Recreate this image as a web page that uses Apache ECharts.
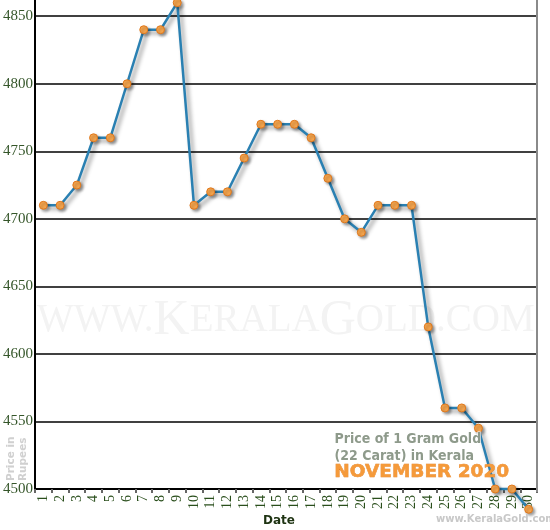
<!DOCTYPE html>
<html>
<head>
<meta charset="utf-8">
<script src="https://cdn.jsdelivr.net/npm/echarts@6/dist/echarts.min.js"></script>
<style>html,body{margin:0;padding:0;background:#fff}#c{width:550px;height:530px}</style>
</head>
<body>
<div id="c"></div>
<script>
var days = ['1','2','3','4','5','6','7','8','9','10','11','12','13','14','15','16','17','18','19','20','21','22','23','24','25','26','27','28','29','30'];
var prices = [4710,4710,4725,4760,4760,4800,4840,4840,4860,4710,4720,4720,4745,4770,4770,4770,4760,4730,4700,4690,4710,4710,4710,4620,4560,4560,4545,4500,4500,4485];
var yMin = 4500, yMax = 4862, yStep = 50;

var chart = echarts.init(document.getElementById('c'), null, {renderer:'canvas'});
chart.setOption({
  animation:false,
  grid:{left:34,right:13,top:0,bottom:41,containLabel:false},
  xAxis:{
    type:'category', data:days, boundaryGap:true,
    axisLine:{lineStyle:{color:'#000',width:2}},
    axisTick:{show:true,length:4,lineStyle:{color:'#666',width:2}},
    axisLabel:{rotate:90,color:'#2a4f1c',fontFamily:'Liberation Serif',fontSize:14,margin:6,interval:0}
  },
  yAxis:{
    type:'value', min:yMin, max:yMax, interval:yStep,
    axisLine:{show:true,lineStyle:{color:'#000',width:2}},
    axisTick:{show:false},
    axisLabel:{showMaxLabel:false,color:'#35562a',fontFamily:'Liberation Serif',fontSize:15,margin:2,
      formatter:function(v){return String(v);}},
    splitLine:{show:true,showMaxLine:false,showMinLine:false,lineStyle:{color:'#000',width:1.5}}
  },
  graphic:[
    {type:'text',left:37,top:296,z:0,silent:true,style:{
      text:'{s|WWW.}{b|K}{s|ERALA}{b|G}{s|OLD.COM}',
      rich:{s:{fontFamily:'Liberation Serif',fontSize:39,fill:'#f3f3f3'},b:{fontFamily:'Liberation Serif',fontSize:50,fill:'#f3f3f3'}}
    }},
    {type:'line',z:5,shape:{x1:537,y1:0,x2:537,y2:492},style:{stroke:'#8a8a8a',lineWidth:2}},
    {type:'text',z:20,left:334,top:431,style:{text:'Price of 1 Gram Gold\n(22 Carat) in Kerala',fill:'#8e9a8b',font:'bold 14px "DejaVu Sans Condensed"',lineHeight:17,stroke:'#ffffff',lineWidth:1}},
    {type:'text',z:20,left:334,top:462,style:{text:'NOVEMBER 2020',fill:'#f59a3a',font:'bold 18.5px "DejaVu Sans"',stroke:'#e07a20',lineWidth:0.5}},
    {type:'text',z:20,left:263,top:515,style:{text:'Date',fill:'#1e3312',font:'bold 12px "DejaVu Sans"'}},
    {type:'text',z:20,left:436,top:514,style:{text:'www.KeralaGold.com',fill:'#c8c8c8',font:'bold 10px "DejaVu Sans"'}},
    {type:'text',z:20,x:5,y:481,rotation:Math.PI/2,style:{text:'Price in\nRupees',fill:'#d0d0d0',font:'bold 10.5px "DejaVu Sans"',lineHeight:12,align:'left',verticalAlign:'top'}}
  ],
  series:[{
    type:'line', data:prices, clip:false, z:10,
    symbol:'circle', symbolSize:8,
    lineStyle:{color:'#2a80b2',width:2.5,shadowColor:'rgba(0,0,0,0.45)',shadowBlur:4,shadowOffsetX:3,shadowOffsetY:3},
    itemStyle:{color:'#f7a64e',borderColor:'#e0781c',borderWidth:1,shadowColor:'rgba(0,0,0,0.35)',shadowBlur:3,shadowOffsetX:2,shadowOffsetY:2}
  }]
});
</script>
</body>
</html>
